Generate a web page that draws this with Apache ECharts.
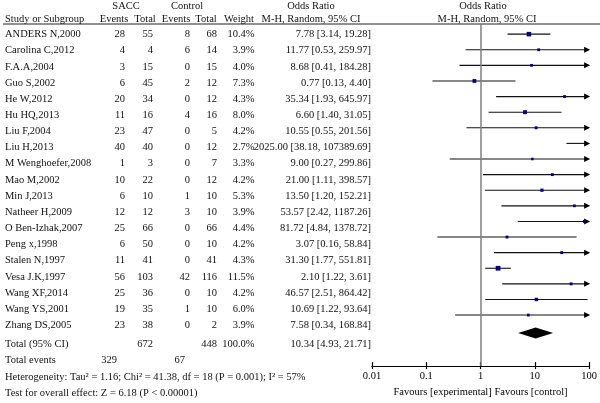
<!DOCTYPE html>
<html><head><meta charset="utf-8">
<script src="https://cdn.jsdelivr.net/npm/echarts@6/dist/echarts.min.js"></script>
<style>html,body{margin:0;padding:0;background:#fff}#c{width:600px;height:403px}</style>
</head><body><div id="c"></div>
<script>
// ---------- data ----------
const studies = ["ANDERS N,2000","Carolina C,2012","F.A.A,2004","Guo S,2002","He W,2012","Hu HQ,2013","Liu F,2004","Liu H,2013","M Wenghoefer,2008","Mao M,2002","Min J,2013","Natheer H,2009","O Ben-Izhak,2007","Peng x,1998","Stalen N,1997","Vesa J.K,1997","Wang XF,2014","Wang YS,2001","Zhang DS,2005"];
const saccEvents = [28,4,3,6,20,11,23,40,1,10,6,12,25,6,11,56,25,19,23];
const saccTotal  = [55,4,15,45,34,16,47,40,3,22,10,12,66,50,41,103,36,35,38];
const ctrlEvents = [8,6,0,2,0,4,0,0,0,0,1,3,0,0,0,42,0,1,0];
const ctrlTotal  = [68,14,15,12,12,16,5,12,7,12,10,10,66,10,41,116,10,10,2];
const weights    = [10.4,3.9,4.0,7.3,4.3,8.0,4.2,2.7,3.3,4.2,5.3,3.9,4.4,4.2,4.3,11.5,4.2,6.0,3.9];
const orValues   = [7.78,11.77,8.68,0.77,35.34,6.60,10.55,2025.00,9.00,21.00,13.50,53.57,81.72,3.07,31.30,2.10,46.57,10.69,7.58];
const ciLower    = [3.14,0.53,0.41,0.13,1.93,1.40,0.55,38.18,0.27,1.11,1.20,2.42,4.84,0.16,1.77,1.22,2.51,1.22,0.34];
const ciUpper    = [19.28,259.97,184.28,4.40,645.97,31.05,201.56,107389.69,299.86,398.57,152.21,1187.26,1378.72,58.84,551.81,3.61,864.42,93.64,168.84];
const totalOR = [10.34, 4.93, 21.71];
const totalN = [672, 448];
const totalEvents = [329, 67];
const xTicks = [0.01, 0.1, 1, 10, 100];
const hetText = "Heterogeneity: Tau\u00b2 = 1.16; Chi\u00b2 = 41.38, df = 18 (P = 0.001); I\u00b2 = 57%";
const testText = "Test for overall effect: Z = 6.18 (P < 0.00001)";

// ---------- layout ----------
const ROW0 = 34.5, ROWH = 16.15, HEAD_LINE = 24, AXIS_Y = 378, H = 403;
const PL = 372, PR = 591;
const FONT = "'Liberation Serif','Times New Roman',serif";
const FS = 10.5;
const col = {study:5, se:125, st:153, ce:190, ct:217, w:254.5, or:371};
const TOTAL_ROW = 19.15, TEV_ROW = 20.2, HET_ROW = 21.2, TEST_ROW = 22.2;

const fmt = v => v.toFixed(2);
const orText = (o,l,u) => fmt(o) + " [" + fmt(l) + ", " + fmt(u) + "]";

const texts = [];
function T(x,row,t,align){ texts.push({x,row,t,align}); }
// headers
T(126,-1.77,"SACC","center"); T(187,-1.77,"Control","center");
T(311,-1.77,"Odds Ratio","center"); T(483,-1.77,"Odds Ratio","center");
T(col.study,-0.93,"Study or Subgroup","left");
T(114,-0.93,"Events","center"); T(145,-0.93,"Total","center");
T(176,-0.93,"Events","center"); T(206,-0.93,"Total","center");
T(239,-0.93,"Weight","center"); T(311,-0.93,"M-H, Random, 95% CI","center");
T(487,-0.93,"M-H, Random, 95% CI","center");
studies.forEach((s,i)=>{
  T(col.study,i,s,"left");
  T(col.se,i,String(saccEvents[i]),"right");
  T(col.st,i,String(saccTotal[i]),"right");
  T(col.ce,i,String(ctrlEvents[i]),"right");
  T(col.ct,i,String(ctrlTotal[i]),"right");
  T(col.w,i,weights[i].toFixed(1)+"%","right");
  T(col.or,i,orText(orValues[i],ciLower[i],ciUpper[i]),"right");
});
T(col.study,TOTAL_ROW,"Total (95% CI)","left");
T(col.st,TOTAL_ROW,String(totalN[0]),"right");
T(col.ct,TOTAL_ROW,String(totalN[1]),"right");
T(col.w,TOTAL_ROW,"100.0%","right");
T(col.or,TOTAL_ROW,orText(totalOR[0],totalOR[1],totalOR[2]),"right");
T(col.study,TEV_ROW,"Total events","left");
T(117,TEV_ROW,String(totalEvents[0]),"right");
T(185,TEV_ROW,String(totalEvents[1]),"right");
T(col.study,HET_ROW,hetText,"left");
T(col.study,TEST_ROW,testText,"left");

const ciData = studies.map((s,i)=>[orValues[i],ciLower[i],ciUpper[i],weights[i],i]);
const XMAX = xTicks[xTicks.length-1], XMIN = xTicks[0];

const chart = echarts.init(document.getElementById('c'), null, {renderer:'canvas'});
const logAxisBase = {type:'log', logBase:10, min:XMIN, max:XMAX, gridIndex:0, position:'bottom', offset:0,
  splitLine:{show:false}, axisLine:{show:true, onZero:false, lineStyle:{color:'#000', width:1.2}}};
chart.setOption({
  animation:false,
  backgroundColor:'#fff',
  grid:[
    {left:PL, width:PR-PL, top:HEAD_LINE, height:AXIS_Y-HEAD_LINE},
    {left:0, width:600, top:0, height:H}
  ],
  xAxis:[
    Object.assign({}, logAxisBase, {
     axisTick:{show:true, inside:true, length:4, lineStyle:{color:'#000', width:1.2}},
     axisLabel:{color:'#000', fontFamily:FONT, fontSize:FS, margin:5,
       formatter:v=>String(+v.toPrecision(6))},
     name:"Favours [experimental] Favours [control]", nameLocation:'middle', nameGap:19,
     nameTextStyle:{color:'#000', fontFamily:FONT, fontSize:FS}}),
    {type:'value', min:0, max:600, gridIndex:1, show:false},
    Object.assign({}, logAxisBase, {
     axisTick:{show:true, inside:false, length:3, lineStyle:{color:'#000', width:1.2}},
     axisLabel:{show:false}})
  ],
  yAxis:[
    {type:'value', inverse:true, gridIndex:0, show:false,
     min:(HEAD_LINE-ROW0)/ROWH, max:(AXIS_Y-ROW0)/ROWH},
    {type:'value', inverse:true, gridIndex:1, show:false,
     min:(0-ROW0)/ROWH, max:(H-ROW0)/ROWH}
  ],
  graphic:[{type:'line', shape:{x1:3,y1:HEAD_LINE,x2:600,y2:HEAD_LINE}, style:{stroke:'#222', lineWidth:1}}],
  series:[
    {type:'custom', xAxisIndex:1, yAxisIndex:1, data:texts.map((t,i)=>[t.x,t.row,i]),
     silent:true, clip:false,
     renderItem:(params,api)=>{
       const t = texts[params.dataIndex];
       const p = api.coord([t.x,t.row]);
       return {type:'text', x:p[0], y:p[1], style:{text:t.t, textAlign:t.align, textVerticalAlign:'middle',
         fill:'#111', font:FS+'px '+FONT}};
     }},
    {type:'custom', xAxisIndex:0, yAxisIndex:0, data:ciData, silent:true, clip:false,
     renderItem:(params,api)=>{
       const o=api.value(0), lo=api.value(1), hi=api.value(2), w=api.value(3), r=api.value(4);
       const pl = api.coord([Math.max(lo,XMIN), r]);
       const ph = api.coord([Math.min(hi,XMAX), r]);
       const kids = [];
       const arrow = hi > XMAX;
       kids.push({type:'line', shape:{x1:pl[0],y1:pl[1],x2:arrow?ph[0]-4:ph[0],y2:ph[1]}, style:{stroke:'#111', lineWidth:1.1}});
       if (arrow) kids.push({type:'polygon', shape:{points:[[ph[0]+1,ph[1]],[ph[0]-5,ph[1]-3],[ph[0]-5,ph[1]+3]]}, style:{fill:'#000'}});
       if (o>=XMIN && o<=XMAX){
         const c = api.coord([o,r]);
         const s = 1.4*Math.sqrt(w);
         kids.push({type:'rect', shape:{x:c[0]-s/2,y:c[1]-s/2,width:s,height:s}, style:{fill:'#00008b'}});
       }
       return {type:'group', children:kids};
     },
     markLine:{silent:true, symbol:'none', label:{show:false},
       lineStyle:{color:'#7f7f7f', width:1.5, type:'solid'}, data:[{xAxis:1}]}
    },
    {type:'custom', xAxisIndex:0, yAxisIndex:0, data:[[totalOR[0],totalOR[1],totalOR[2],TOTAL_ROW]], silent:true, clip:false,
     renderItem:(params,api)=>{
       const r = api.value(3);
       const c = api.coord([api.value(0),r]);
       const l = api.coord([api.value(1),r]);
       const h = api.coord([api.value(2),r]);
       return {type:'polygon', shape:{points:[[l[0],c[1]],[c[0],c[1]-5.5],[h[0],c[1]],[c[0],c[1]+5.5]]}, style:{fill:'#000'}};
     }}
  ]
});
</script></body></html>
